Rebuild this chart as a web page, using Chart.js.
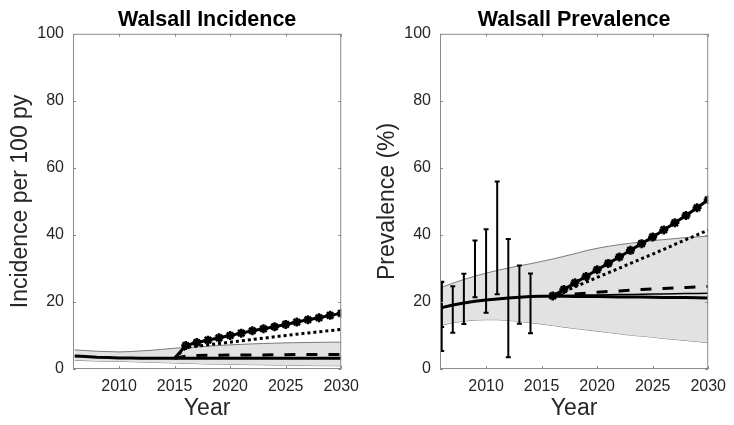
<!DOCTYPE html>
<html>
<head>
<meta charset="utf-8">
<script src="https://cdn.jsdelivr.net/npm/chart.js@4.4.0/dist/chart.umd.min.js"></script>
<style>
  html, body { margin: 0; padding: 0; background: #fff; }
  #wrap { position: relative; width: 734px; height: 425px; }
  canvas { position: absolute; top: 0; }
</style>
</head>
<body>
<div id="wrap">
  <canvas id="inc" width="367" height="425" style="left:0"></canvas>
  <canvas id="prev" width="367" height="425" style="left:367px"></canvas>
</div>
<script>
// ---- data ----
const years = [2006, 2007, 2008, 2009, 2010, 2011, 2012, 2013, 2014, 2015, 2016, 2017, 2018,
               2019, 2020, 2021, 2022, 2023, 2024, 2025, 2026, 2027, 2028, 2029, 2030];
const xTicks = [2010, 2015, 2020, 2025, 2030];
const yTicks = [0, 20, 40, 60, 80, 100];

// incidence (per 100 py)
const incUpper = [5.7, 5.5, 5.3, 5.2, 5.1, 5.2, 5.4, 5.6, 5.9, 6.2, 6.4, 6.6, 6.8, 7.0, 7.2,
                  7.35, 7.5, 7.6, 7.7, 7.8, 7.85, 7.9, 7.95, 8.0, 8.0];
const incLower = [2.6, 2.5, 2.4, 2.35, 2.3, 2.2, 2.1, 2.0, 1.9, 1.8, 1.7, 1.6, 1.5, 1.45, 1.4,
                  1.35, 1.3, 1.25, 1.2, 1.15, 1.1, 1.05, 1.0, 1.0, 0.95];
const incBase = [3.9, 3.7, 3.5, 3.4, 3.3, 3.25, 3.2, 3.2, 3.2, 3.2, 3.2, 3.2, 3.2, 3.2, 3.2,
                 3.2, 3.2, 3.2, 3.2, 3.2, 3.2, 3.2, 3.2, 3.2, 3.2];
const incScenYears = [2015, 2016, 2017, 2018, 2019, 2020, 2021, 2022, 2023, 2024, 2025, 2026, 2027, 2028, 2029, 2030];
const incStar   = [3.2, 7.0, 7.9, 8.6, 9.3, 10.0, 10.7, 11.4, 12.0, 12.6, 13.3, 14.0, 14.7, 15.3, 16.0, 16.6];
const incDotted = [3.2, 6.4, 6.8, 7.2, 7.6, 8.0, 8.4, 8.8, 9.2, 9.6, 10.0, 10.4, 10.75, 11.1, 11.45, 11.8];
const incDashed = [3.2, 3.8, 4.0, 4.1, 4.1, 4.15, 4.2, 4.2, 4.2, 4.25, 4.25, 4.3, 4.3, 4.3, 4.3, 4.3];

// prevalence (%)
const prevUpper = [24.4, 25.6, 26.7, 27.7, 28.6, 29.4, 30.1, 30.8, 31.4, 32.1, 32.8, 33.6, 34.4,
                   35.3, 36.0, 36.6, 37.1, 37.5, 37.9, 38.3, 38.6, 38.9, 39.2, 39.4, 39.6];
const prevLower = [13.1, 13.8, 14.3, 14.6, 14.7, 14.7, 14.5, 14.2, 13.8, 13.4, 13.0, 12.5, 12.1,
                   11.7, 11.3, 10.9, 10.5, 10.1, 9.8, 9.5, 9.1, 8.8, 8.5, 8.2, 7.8];
const prevBase = [18.3, 19.1, 19.7, 20.2, 20.6, 20.9, 21.2, 21.4, 21.6, 21.7, 21.7, 21.7, 21.65,
                  21.6, 21.6, 21.55, 21.5, 21.5, 21.45, 21.4, 21.35, 21.3, 21.3, 21.25, 21.2];
const prevScenYears = [2016, 2017, 2018, 2019, 2020, 2021, 2022, 2023, 2024, 2025, 2026, 2027, 2028, 2029, 2030];
const prevStar   = [21.8, 23.7, 25.7, 27.6, 29.6, 31.5, 33.4, 35.4, 37.4, 39.4, 41.5, 43.6, 45.8, 48.1, 50.5];
const prevDotted = [21.8, 23.1, 24.5, 25.9, 27.3, 28.7, 30.1, 31.5, 32.9, 34.3, 35.7, 37.2, 38.6, 40.0, 41.5];
const prevDashed = [21.8, 22.1, 22.4, 22.6, 22.9, 23.1, 23.3, 23.5, 23.7, 23.9, 24.0, 24.2, 24.3, 24.5, 24.6];
const prevAlt    = [21.8, 21.9, 22.0, 22.05, 22.1, 22.15, 22.2, 22.25, 22.3, 22.35, 22.4, 22.45, 22.5, 22.55, 22.6];

// prevalence survey error bars
const errYears = [2006, 2006, 2007, 2008, 2009, 2010, 2011, 2012, 2013, 2014];
const errLow   = [5.4, 12.5, 10.8, 13.4, 21.4, 16.8, 22.3, 3.5, 13.5, 10.7];
const errHigh  = [25.9, 26.0, 24.7, 28.4, 38.3, 41.7, 55.9, 38.8, 30.9, 28.5];

// ---- helpers ----
const pts = (xs, ys) => xs.map((x, i) => ({ x: x, y: ys[i] }));
const tickFont = { family: 'Liberation Sans, Arial, sans-serif', size: 16 };
const axisFont = { family: 'Liberation Sans, Arial, sans-serif', size: 23 };
const axisGray = '#8c8c8c';
const textGray = '#262626';

// MATLAB-like box with inward ticks
const boxPlugin = {
  id: 'box',
  afterDraw(chart) {
    const { ctx, chartArea: a, scales } = chart;
    ctx.save();
    ctx.strokeStyle = axisGray;
    ctx.lineWidth = 1;
    ctx.strokeRect(a.left + 0.5, a.top + 0.5, a.right - a.left - 1, a.bottom - a.top - 1);
    ctx.beginPath();
    xTicks.forEach(v => {
      const px = Math.round(scales.x.getPixelForValue(v)) + 0.5;
      ctx.moveTo(px, a.bottom); ctx.lineTo(px, a.bottom - 3);
      ctx.moveTo(px, a.top); ctx.lineTo(px, a.top + 3);
    });
    yTicks.forEach(v => {
      const py = Math.round(scales.y.getPixelForValue(v)) + 0.5;
      ctx.moveTo(a.left, py); ctx.lineTo(a.left + 3, py);
      ctx.moveTo(a.right, py); ctx.lineTo(a.right - 3, py);
    });
    ctx.stroke();
    ctx.restore();
  }
};

function lineDs(data, extra) {
  return Object.assign({
    data: data, borderColor: '#000', backgroundColor: '#000', borderWidth: 3,
    pointRadius: 0, fill: false, tension: 0
  }, extra || {});
}

function starDs(data) {
  return lineDs(data, {
    pointStyle: 'star', borderWidth: 3, pointBorderWidth: 2.5,
    pointRadius: data.map(p => (p.x >= 2016 ? 4.5 : 0))
  });
}

function bandDs(upper, lower) {
  return [
    lineDs(pts(years, upper), { borderColor: '#7a7a7a', borderWidth: 1, fill: '+1', backgroundColor: '#e2e2e2' }),
    lineDs(pts(years, lower), { borderColor: '#7a7a7a', borderWidth: 1 })
  ];
}

function options(title, yTitle) {
  return {
    responsive: false,
    animation: false,
    layout: { padding: { left: 0, right: 24, top: 0, bottom: 0 } },
    plugins: {
      legend: { display: false },
      tooltip: { enabled: false },
      title: {
        display: true, text: title, fullSize: false, color: '#000',
        font: { family: 'Liberation Sans, Arial, sans-serif', size: 21.5, weight: 'bold' },
        padding: { top: 7, bottom: 1 }
      }
    },
    scales: {
      x: {
        type: 'linear', min: 2005.85, max: 2030,
        afterBuildTicks: s => { s.ticks = xTicks.map(v => ({ value: v })); },
        afterFit: s => { s.height = 56; },
        grid: { display: false, drawTicks: false }, border: { display: false },
        ticks: { font: tickFont, color: textGray, padding: 8, maxRotation: 0, autoSkip: false, callback: v => String(v) },
        title: { display: true, text: 'Year', font: axisFont, color: textGray, padding: { top: 0, bottom: 3 } }
      },
      y: {
        type: 'linear', min: 0, max: 100,
        afterBuildTicks: s => { s.ticks = yTicks.map(v => ({ value: v })); },
        afterFit: s => { s.width = 73; },
        grid: { display: false, drawTicks: false }, border: { display: false },
        ticks: { font: tickFont, color: textGray, padding: 9, callback: v => String(v) },
        title: { display: true, text: yTitle, font: axisFont, color: textGray, padding: { top: 7, bottom: 0 } }
      }
    }
  };
}

// incidence panel
new Chart(document.getElementById('inc'), {
  type: 'line',
  data: {
    datasets: [
      starDs(pts(incScenYears, incStar)),
      lineDs(pts(incScenYears, incDotted), { borderDash: [3, 3] }),
      lineDs(pts(incScenYears, incDashed), { borderDash: [11, 11] }),
      lineDs(pts(years, incBase))
    ].concat(bandDs(incUpper, incLower))
  },
  options: options('Walsall Incidence', 'Incidence per 100 py'),
  plugins: [boxPlugin]
});

// prevalence panel
const errDs = errYears.map((yr, i) => lineDs([{ x: yr, y: errLow[i] }, { x: yr, y: errHigh[i] }], {
  borderWidth: 2, pointStyle: 'line', pointRadius: 2.5, pointBorderWidth: 2
}));

new Chart(document.getElementById('prev'), {
  type: 'line',
  data: {
    datasets: [
      starDs(pts(prevScenYears, prevStar)),
      lineDs(pts(prevScenYears, prevDotted), { borderDash: [3, 3] }),
      lineDs(pts(prevScenYears, prevDashed), { borderDash: [11, 11] }),
      lineDs(pts(prevScenYears, prevAlt), { borderWidth: 1.5 }),
      lineDs(pts(years, prevBase))
    ].concat(errDs, bandDs(prevUpper, prevLower))
  },
  options: options('Walsall Prevalence', 'Prevalence (%)'),
  plugins: [boxPlugin]
});
</script>
</body>
</html>
